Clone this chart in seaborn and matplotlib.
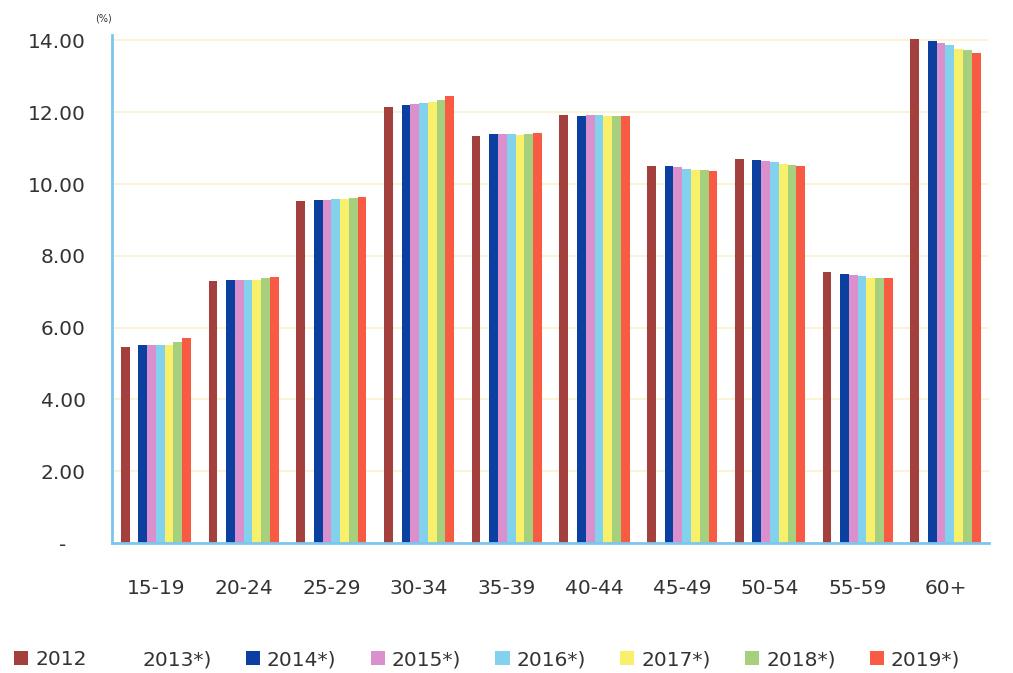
import numpy as np
import pandas as pd
import matplotlib
matplotlib.use("Agg")
import matplotlib.pyplot as plt
import seaborn as sns
from matplotlib.patches import Patch

categories = ["15-19", "20-24", "25-29", "30-34", "35-39", "40-44", "45-49", "50-54", "55-59", "60+"]
years = ["2012", "2013*)", "2014*)", "2015*)", "2016*)", "2017*)", "2018*)", "2019*)"]

v2012 = [5.47, 7.30, 9.53, 12.14, 11.33, 11.92, 10.50, 10.69, 7.55, 14.03]
v2013 = [np.nan] * 10
v2014 = [5.52, 7.32, 9.55, 12.19, 11.38, 11.90, 10.50, 10.67, 7.50, 13.97]
v2015 = [5.53, 7.32, 9.56, 12.22, 11.38, 11.92, 10.47, 10.65, 7.47, 13.93]
v2016 = [5.53, 7.33, 9.58, 12.25, 11.38, 11.92, 10.43, 10.60, 7.43, 13.88]
v2017 = [5.53, 7.34, 9.58, 12.29, 11.36, 11.90, 10.40, 10.55, 7.38, 13.75]
v2018 = [5.60, 7.38, 9.62, 12.35, 11.40, 11.90, 10.40, 10.53, 7.37, 13.72]
v2019 = [5.70, 7.42, 9.64, 12.44, 11.42, 11.90, 10.37, 10.50, 7.37, 13.65]

series = [v2012, v2013, v2014, v2015, v2016, v2017, v2018, v2019]
colors = ["#A3403D", "#FFFFFF", "#0B3FA0", "#D990CC", "#82D2EE", "#F8EF6A", "#A7D07E", "#F95A43"]

rows = []
for y, vals in zip(years, series):
    for c, v in zip(categories, vals):
        rows.append({"age": c, "year": y, "value": v})
df = pd.DataFrame(rows)

sns.set_theme(style="white")
plt.rcParams['font.family'] = ['DejaVu Sans']

fig = plt.figure(figsize=(10.13, 6.73), dpi=100)
ax = fig.add_axes([0.1106, 0.193, 0.866, 0.755])

sns.barplot(data=df, x="age", y="value", hue="year", order=categories, hue_order=years,
            palette=dict(zip(years, colors)), width=0.8, saturation=1, linewidth=0,
            errorbar=None, legend=False, ax=ax)

FS = 14.5
ax.set_ylim(0, 14.15)
ax.set_xlim(-0.5, 9.5)
yt = [0, 2, 4, 6, 8, 10, 12, 14]
ax.set_yticks(yt)
ax.set_yticklabels(["-   "] + [f"{t:.2f}" for t in yt[1:]], fontsize=FS, color="#333333")
ax.set_xticks(range(len(categories)))
ax.set_xticklabels(categories, fontsize=FS, color="#333333")
ax.tick_params(axis="x", length=0, pad=26)
ax.tick_params(axis="y", length=4, color="#FAF1CF", pad=15)
ax.set_xlabel("")
ax.set_ylabel("")
ax.grid(axis="y", color="#FAF1CF", linewidth=1.2)
ax.set_axisbelow(True)
for s in ["top", "right"]:
    ax.spines[s].set_visible(False)
for s in ["left", "bottom"]:
    ax.spines[s].set_color("#7CC6EE")
    ax.spines[s].set_linewidth(2)

fig.text(0.094, 0.968, "(%)", fontsize=7, color="#333333")

handles = [Patch(facecolor=c, edgecolor="none") for c in colors]
fig.legend(handles, years, loc="center", bbox_to_anchor=(0.481, 0.02), ncol=8,
           frameon=False, fontsize=FS, handlelength=0.7, handleheight=0.7,
           handletextpad=0.35, columnspacing=1.7, labelcolor="#333333")

fig.savefig("out.png", dpi=100)
